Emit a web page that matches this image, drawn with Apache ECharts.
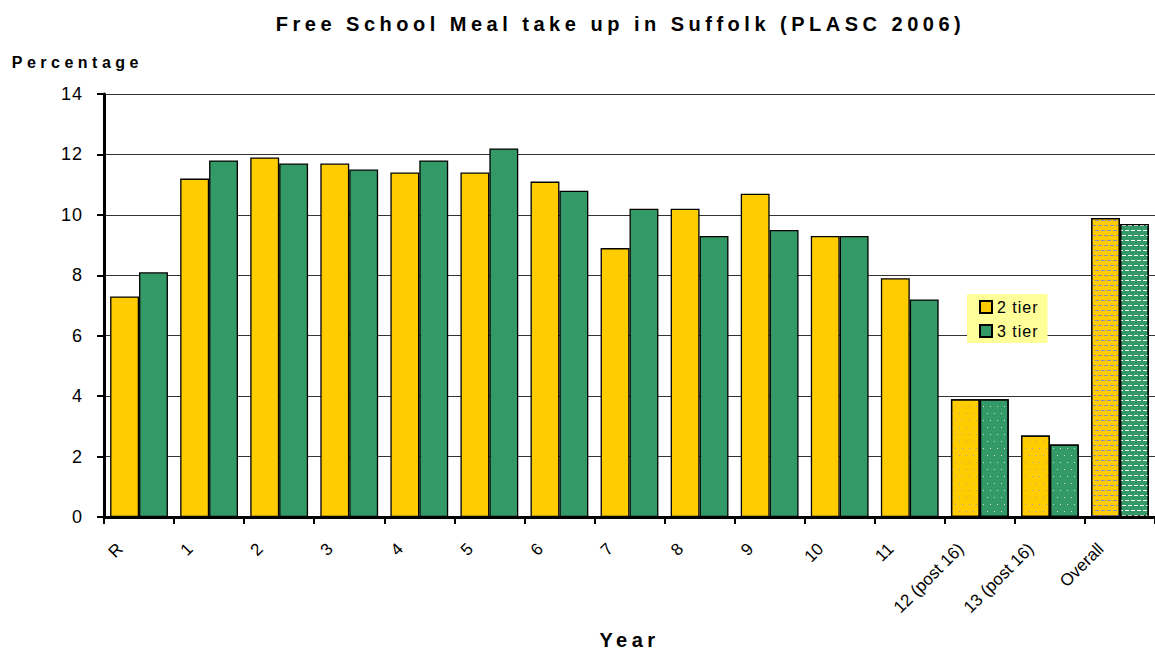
<!DOCTYPE html>
<html>
<head>
<meta charset="utf-8">
<script src="https://cdn.jsdelivr.net/npm/echarts@6/dist/echarts.min.js"></script>
<style>
  html, body { margin: 0; padding: 0; background: #ffffff; }
  #chart { width: 1155px; height: 655px; }
  /* lightly tracked legend and value labels, widely tracked bold headings */
  #chart text[style*="16px"] { letter-spacing: 1px; }
  #chart text[style*="18px"] { letter-spacing: 1px; }
  #chart text[style*="bold"] { letter-spacing: 4.5px; }
</style>
</head>
<body>
<div id="chart"></div>
<script>
// School years on the category axis
const categories = ['R', '1', '2', '3', '4', '5', '6', '7', '8', '9', '10', '11',
                    '12 (post 16)', '13 (post 16)', 'Overall'];

// Free school meal take-up (%) by school structure
const twoTier   = [7.3, 11.2, 11.9, 11.7, 11.4, 11.4, 11.1, 8.9, 10.2, 10.7, 9.3, 7.9, 3.9, 2.7, 9.9];
const threeTier = [8.1, 11.8, 11.7, 11.5, 11.8, 12.2, 10.8, 10.2, 9.3, 9.5, 9.3, 7.2, 3.9, 2.4, 9.7];

// Value axis range
const yMin = 0, yMax = 14, yStep = 2;

// Sixth-form years are dotted, the overall figure is dashed
const dottedCats = ['12 (post 16)', '13 (post 16)'];
const dashedCats = ['Overall'];

const FONT = '"Liberation Sans", Arial, sans-serif';

function decalFor(cat, ink) {
  if (dottedCats.indexOf(cat) >= 0) {
    return { decal: { symbol: 'rect', symbolSize: 1, color: ink,
      dashArrayX: [[1, 6], [0, 3, 1, 3]], dashArrayY: [1, 5.7] } };
  }
  if (dashedCats.indexOf(cat) >= 0) {
    return { decal: { symbol: 'rect', symbolSize: 1, color: ink,
      dashArrayX: [[4, 2], [1, 2, 3, 0]], dashArrayY: [1, 3.7] } };
  }
  return undefined;
}

function buildData(values, dotInk, dashInk) {
  return values.map(function (v, i) {
    const cat = categories[i];
    const ink = dottedCats.indexOf(cat) >= 0 ? dotInk : dashInk;
    const st = decalFor(cat, ink);
    return st ? { value: v, itemStyle: st } : v;
  });
}

const chart = echarts.init(document.getElementById('chart'), null, { renderer: 'svg' });

chart.setOption({
  animation: false,
  backgroundColor: '#ffffff',
  title: {
    text: 'Free School Meal take up in Suffolk (PLASC 2006)',
    left: 620.5,
    top: 14,
    padding: 0,
    textAlign: 'center',
    textStyle: { fontFamily: FONT, fontSize: 20, fontWeight: 'bold', color: '#000' }
  },
  legend: {
    orient: 'vertical',
    left: 967,
    top: 294,
    padding: [5, 15, 4, 12],
    backgroundColor: '#FFFF99',
    itemWidth: 12,
    itemHeight: 12,
    itemGap: 8,
    icon: 'rect',
    textStyle: { fontFamily: FONT, fontSize: 16, color: '#000' },
    data: ['2 tier', '3 tier']
  },
  grid: { left: 104, right: -4, top: 94, bottom: 137, containLabel: false },
  xAxis: {
    type: 'category',
    data: categories,
    name: 'Year',
    nameLocation: 'middle',
    nameGap: 113,
    nameTextStyle: { fontFamily: FONT, fontSize: 20, fontWeight: 'bold', color: '#000' },
    axisLine: { lineStyle: { color: '#000', width: 3 } },
    axisTick: { show: true, length: 7, lineStyle: { color: '#000', width: 2 } },
    axisLabel: {
      interval: 0, rotate: 45, margin: 10, padding: [0, 27, 0, 0],
      fontFamily: FONT, fontSize: 17, color: '#000'
    }
  },
  yAxis: {
    type: 'value',
    min: yMin, max: yMax, interval: yStep,
    name: 'Percentage',
    nameLocation: 'end',
    nameGap: 23.5,
    nameTextStyle: {
      fontFamily: FONT, fontSize: 16, fontWeight: 'bold', color: '#000',
      align: 'left', padding: [0, 0, 0, -92.3]
    },
    axisLine: { show: true, lineStyle: { color: '#000', width: 3 } },
    axisTick: { show: true, length: 7, lineStyle: { color: '#000', width: 2 } },
    axisLabel: { margin: 21, fontFamily: FONT, fontSize: 18, color: '#000' },
    splitLine: { show: true, lineStyle: { color: '#333333', width: 1 } }
  },
  series: [
    {
      name: '2 tier',
      type: 'bar',
      barGap: '0%',
      barCategoryGap: '17.5%',
      itemStyle: { color: '#FFCC00', borderColor: '#000', borderWidth: 1.3 },
      data: buildData(twoTier, '#A8A29A', '#8E8EB4')
    },
    {
      name: '3 tier',
      type: 'bar',
      barGap: '0%',
      barCategoryGap: '17.5%',
      itemStyle: { color: '#339966', borderColor: '#000', borderWidth: 1.3 },
      data: buildData(threeTier, '#C8E0D4', '#FFFFFF')
    }
  ]
});
</script>
</body>
</html>
